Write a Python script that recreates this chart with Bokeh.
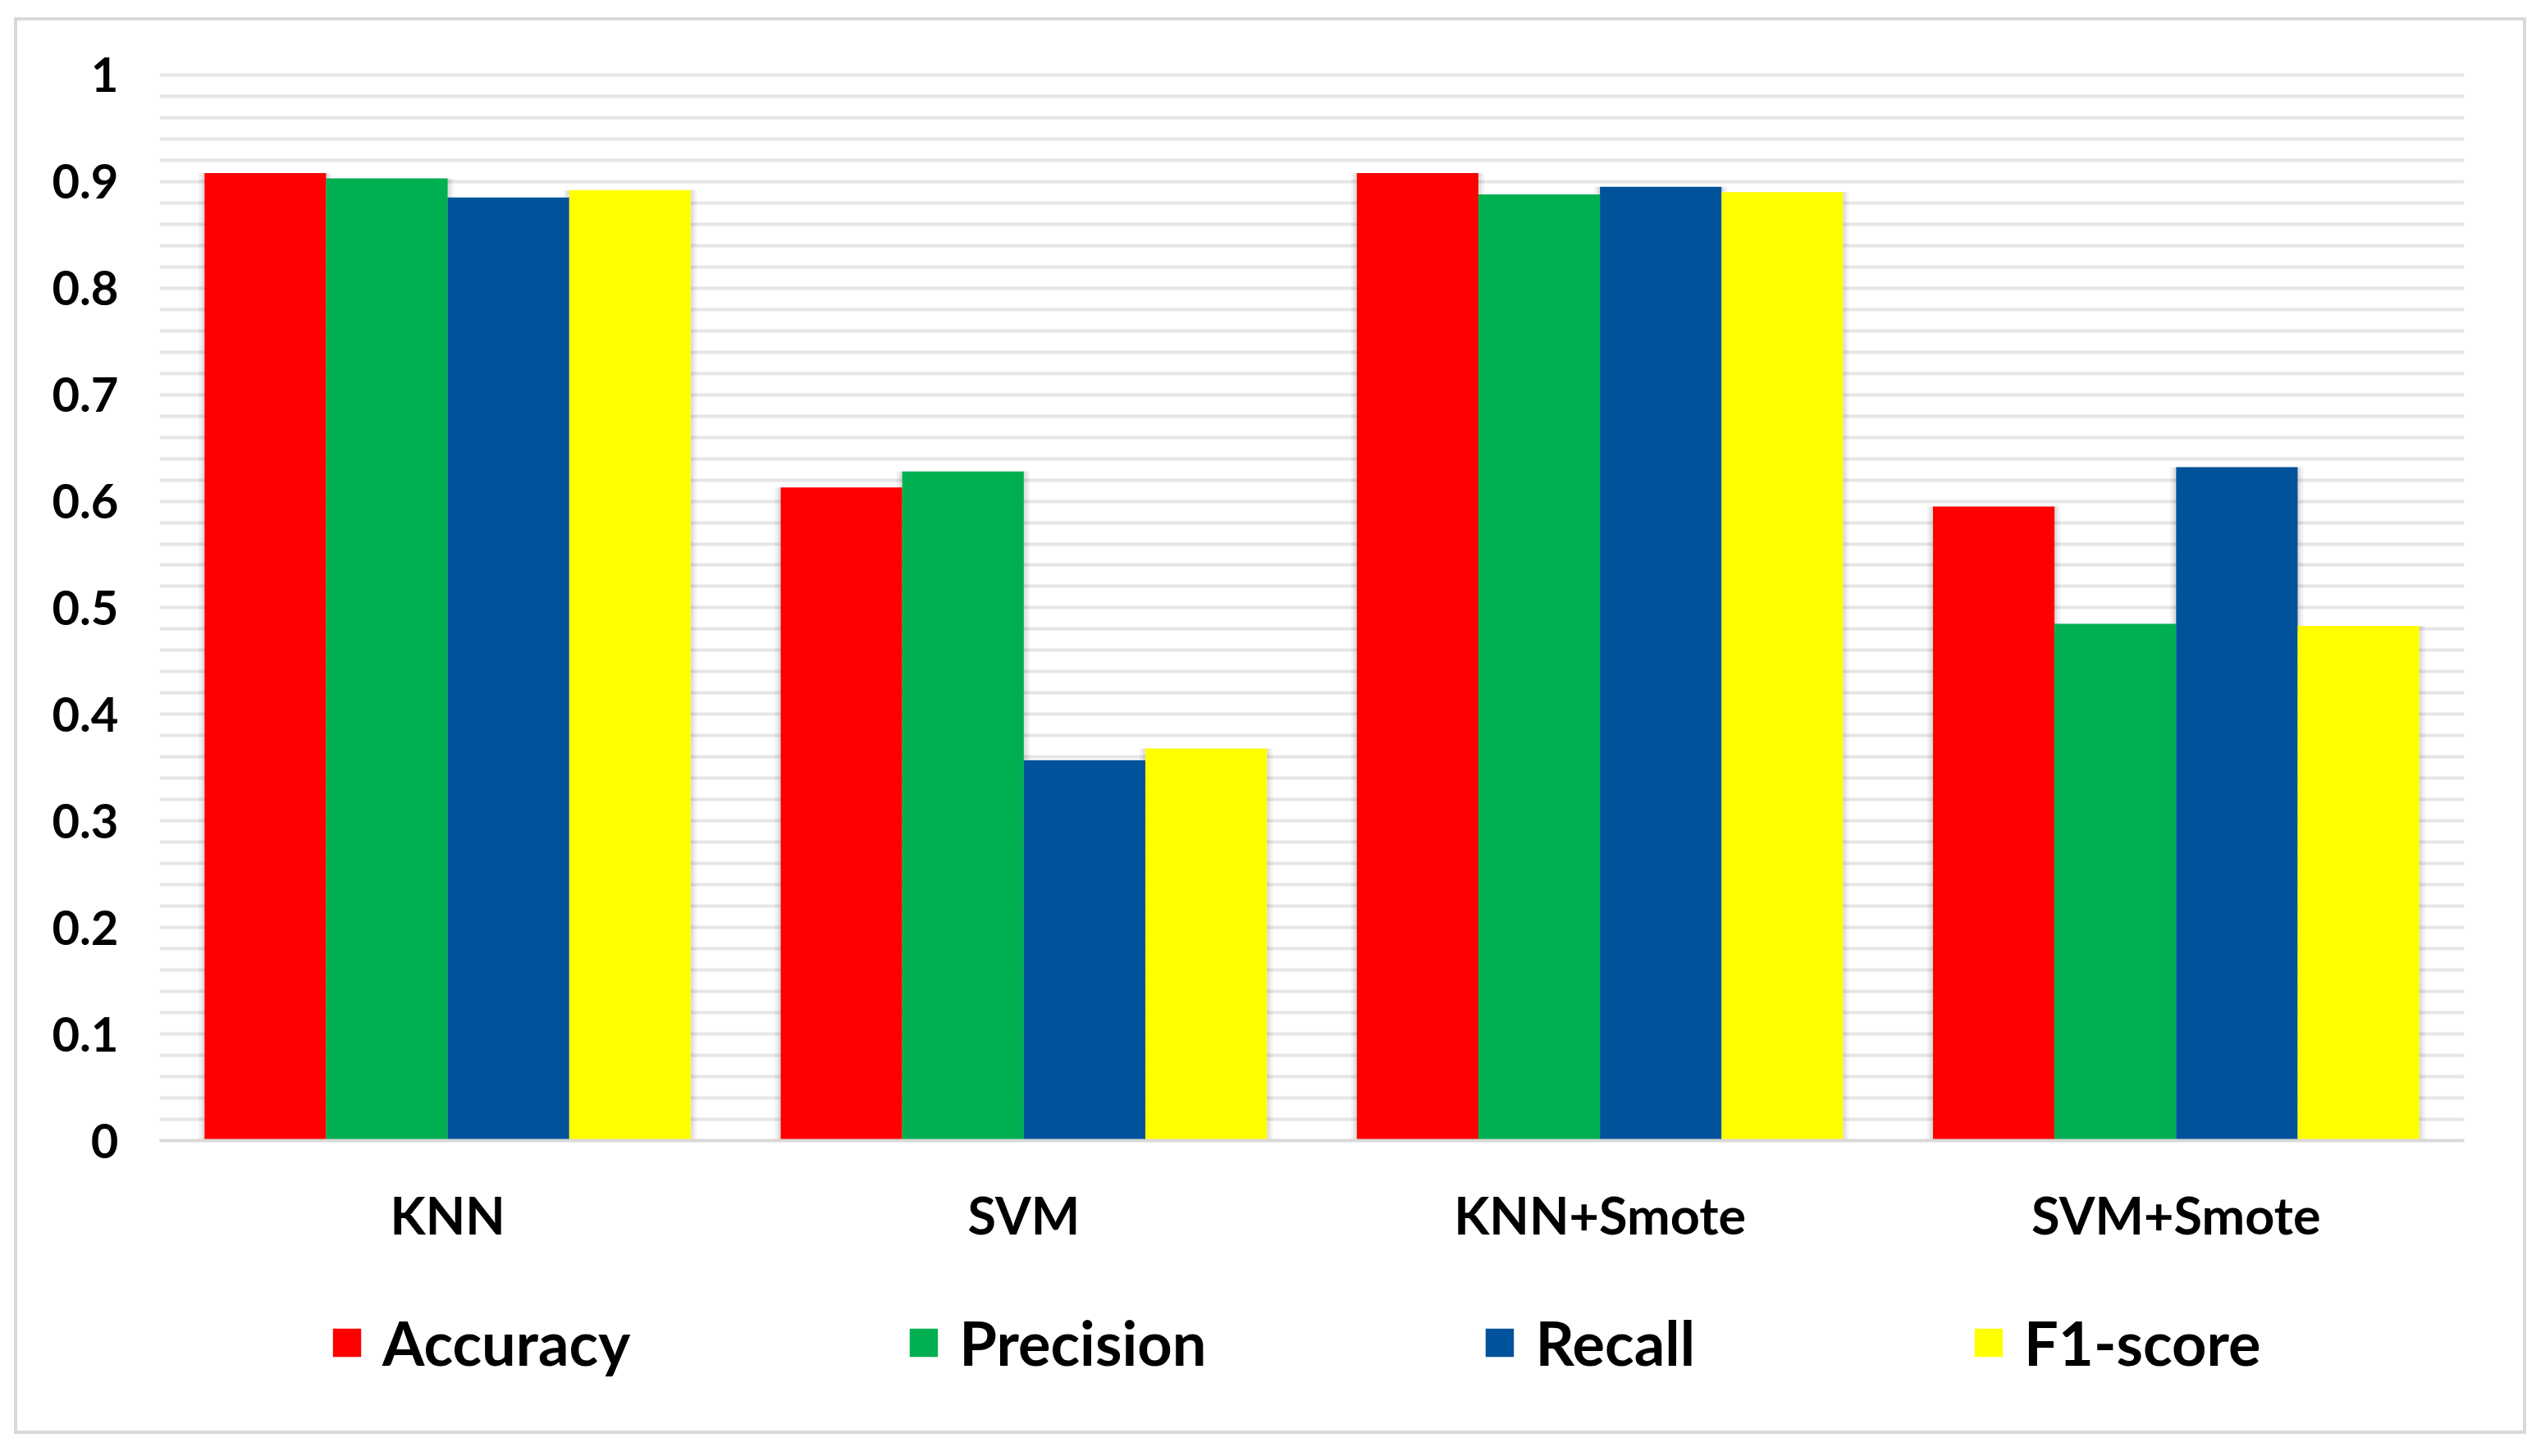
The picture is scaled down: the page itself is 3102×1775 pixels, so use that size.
from bokeh.plotting import figure
from bokeh.layouts import column
from bokeh.models import FactorRange, ColumnDataSource, Legend, LegendItem, FixedTicker, Range1d
from bokeh.transform import dodge
from bokeh.embed import file_html
from bokeh.resources import INLINE

# ---- data ----
models = ["KNN", "SVM", "KNN+Smote", "SVM+Smote"]
metrics = ["Accuracy", "Precision", "Recall", "F1-score"]
accuracy = [0.908, 0.613, 0.908, 0.595]
precision = [0.903, 0.628, 0.888, 0.485]
recall = [0.885, 0.357, 0.895, 0.632]
f1_score = [0.892, 0.368, 0.890, 0.483]
colors = ["#FF0000", "#00B050", "#00539B", "#FFFF00"]
y_ticks = [0, 0.1, 0.2, 0.3, 0.4, 0.5, 0.6, 0.7, 0.8, 0.9, 1.0]
y_tick_labels = ["0", "0.1", "0.2", "0.3", "0.4", "0.5", "0.6", "0.7", "0.8", "0.9", "1"]
grid_ticks = [round(0.02 * i, 2) for i in range(1, 51)]

src = ColumnDataSource(dict(model=models, Accuracy=accuracy, Precision=precision,
                            Recall=recall, F1=f1_score))
keys = ["Accuracy", "Precision", "Recall", "F1"]

FONT = "Lato"
BORDER = "4px solid #d9d9d9"
W = 3062
HA = 1535
HB = 192

p = figure(x_range=FactorRange(*models, range_padding=0), y_range=Range1d(0, 1.003),
           width=W, height=HA, output_backend="svg", toolbar_location=None,
           min_border_left=173, min_border_right=80, min_border_top=62, min_border_bottom=170)
p.styles = {"border-left": BORDER, "border-right": BORDER, "border-top": BORDER}
p.outline_line_color = None
p.background_fill_color = "white"
p.border_fill_color = "white"

bar_w = 0.211
offsets = [-1.5 * bar_w, -0.5 * bar_w, 0.5 * bar_w, 1.5 * bar_w]

# soft shadows
for k, off in zip(keys, offsets):
    for extra, alpha in [(0.02, 0.05), (0.01, 0.07)]:
        p.vbar(x=dodge("model", off, range=p.x_range), top=k, width=bar_w + extra,
               source=src, fill_color="#000000", fill_alpha=alpha, line_color=None)

for k, off, col in zip(keys, offsets, colors):
    p.vbar(x=dodge("model", off, range=p.x_range), top=k, width=bar_w, source=src,
           fill_color=col, line_color=None)

# axes
p.xaxis.axis_line_color = "#d9d9d9"
p.xaxis.axis_line_width = 4
p.xaxis.major_tick_line_color = None
p.xaxis.minor_tick_line_color = None
p.xaxis.major_label_text_font = FONT
p.xaxis.major_label_text_font_style = "bold"
p.xaxis.major_label_text_font_size = "63px"
p.xaxis.major_label_text_color = "black"
p.xaxis.major_label_standoff = 46

p.yaxis.axis_line_color = None
p.yaxis.major_tick_line_color = None
p.yaxis.minor_tick_line_color = None
p.yaxis.ticker = FixedTicker(ticks=y_ticks)
p.yaxis.major_label_overrides = {t: l for t, l in zip(y_ticks, y_tick_labels)}
p.yaxis.major_label_text_font = FONT
p.yaxis.major_label_text_font_style = "bold"
p.yaxis.major_label_text_font_size = "58px"
p.yaxis.major_label_text_color = "black"
p.yaxis.major_label_standoff = 44

p.xgrid.grid_line_color = None
p.ygrid.ticker = FixedTicker(ticks=grid_ticks)
p.ygrid.grid_line_color = "#e6e6e6"
p.ygrid.grid_line_width = 4

# ---- legend strip ----
q = figure(x_range=Range1d(0, 1), y_range=Range1d(0, 1), width=W, height=HB,
           output_backend="svg", toolbar_location=None,
           x_axis_location=None, y_axis_location=None,
           min_border_left=0, min_border_right=0, min_border_top=0, min_border_bottom=0)
q.styles = {"border-left": BORDER, "border-right": BORDER, "border-bottom": BORDER}
q.outline_line_color = None
q.background_fill_color = "white"
q.border_fill_color = "white"
q.xgrid.visible = False
q.ygrid.visible = False

# one off-screen key per metric, only so the legend can draw its swatch
key_src = ColumnDataSource(dict(x=[5.0], top=[0.0]))
items = []
for name, col in zip(metrics, colors):
    r = q.vbar(x="x", top="top", width=0.1, source=key_src, fill_color=col, line_color=None)
    items.append(LegendItem(label=name, renderers=[r]))

legend = Legend(items=items, orientation="horizontal", location=(207, 67),
                spacing=336, label_standoff=22, glyph_width=43, glyph_height=43,
                label_text_font=FONT, label_text_font_style="bold",
                label_text_font_size="74px", label_text_color="black",
                border_line_color=None, background_fill_alpha=0, padding=0, margin=0)
q.add_layout(legend, "center")

layout = column(p, q, spacing=0)
layout.styles = {"margin-left": "17px", "margin-top": "21px"}

open("out.html", "w").write(file_html(layout, INLINE))
